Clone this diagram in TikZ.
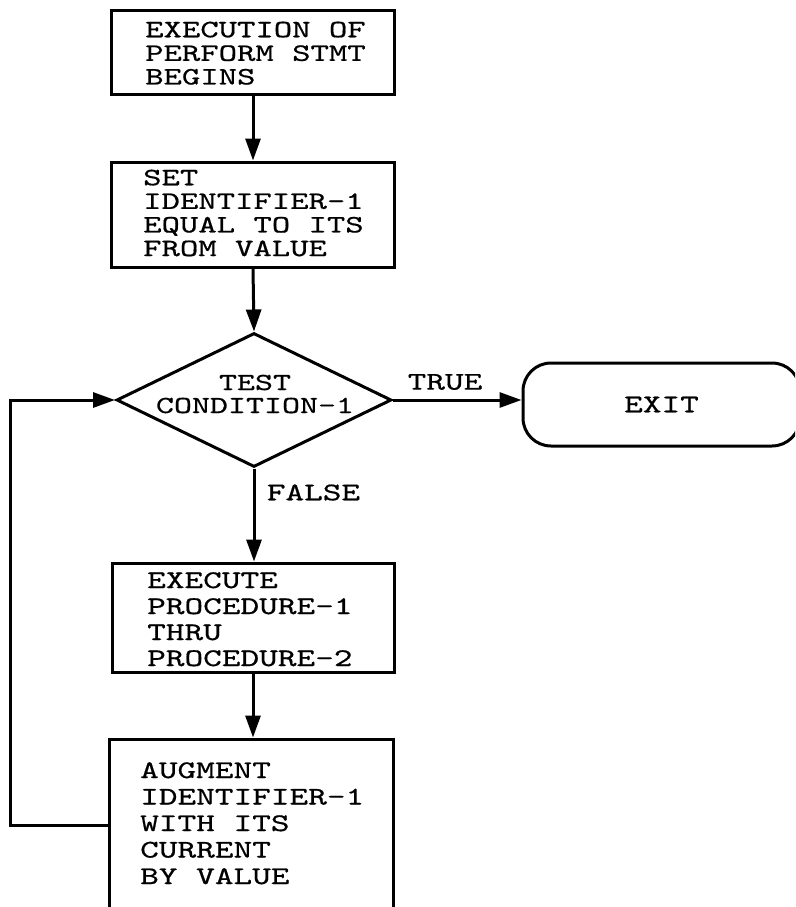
\documentclass[tikz,border=0pt]{standalone}
\usepackage{fontspec}
\newfontfamily\flowfont{lmmono10-regular.otf}[FakeStretch=1.40,FakeBold=0.6]
\newcommand\flowsize[2]{\fontsize{#1}{#2}\selectfont\flowfont}
\usetikzlibrary{shapes.geometric,arrows.meta}
\begin{document}
\begin{tikzpicture}[x=1pt,y=-1pt,
  box/.style={draw, rectangle, line width=3pt, inner sep=0pt},
  dia/.style={draw, diamond, line width=3pt, inner sep=0pt},
  exitbox/.style={draw, rectangle, rounded corners=28pt, line width=3pt, inner sep=0pt, font=\flowsize{25.4}{24}},
  lbl/.style={inner sep=0pt, anchor=north west, align=left},
  plain/.style={inner sep=0pt, font=\flowsize{25.4}{24}},
  arr/.style={line width=3pt, -{Triangle[length=22pt,width=15pt]}}]
\useasboundingbox (0,0) rectangle (795,907);
\clip (0,0) rectangle (795,907);

\node[box, minimum width=283, minimum height=83] (b1) at (253,52.5) {};
\node[lbl, font=\flowsize{25}{23.6}] (t1) at (145,21.5) {EXECUTION OF\\PERFORM STMT\\BEGINS};

\node[box, minimum width=283, minimum height=105] (b2) at (253,214.5) {};
\node[lbl, font=\flowsize{25}{23.6}] (t2) at (143,169.5) {SET\\IDENTIFIER-1\\EQUAL TO ITS\\FROM VALUE};

\node[dia, minimum width=275, minimum height=134] (d) at (254,400) {};
\node[inner sep=0pt, font=\flowsize{24.5}{23}, anchor=base] (dt1) at (255,390) {TEST};
\node[inner sep=0pt, font=\flowsize{24.5}{23}, anchor=base] (dt2) at (255,413) {CONDITION-1};

\node[exitbox, minimum width=277, minimum height=83] (e) at (661.5,404.5) {EXIT};

\node[box, minimum width=282, minimum height=109] (b3) at (253,617.5) {};
\node[lbl, font=\flowsize{25.4}{26}] (t3) at (147,572) {EXECUTE\\PROCEDURE-1\\THRU\\PROCEDURE-2};

\node[box, minimum width=284, minimum height=172] (b4) at (251,825) {};
\node[lbl, font=\flowsize{25.4}{26.5}] (t4) at (140,762) {AUGMENT\\IDENTIFIER-1\\WITH ITS\\CURRENT\\BY VALUE};

\node[plain] (tt) at (445,382) {TRUE};
\node[plain] (ft) at (313.5,492.5) {FALSE};

\draw[arr] (b1.south) -- (b1.south |- b2.north);
\draw[arr] (b2.south) -- (d.north);
\draw[arr] (d.east) -- (d.east -| e.west);
\draw[arr] (d.south) -- (d.south |- b3.north);
\draw[arr] (b3.south) -- (b3.south |- b4.north);
\coordinate (lc) at (10,825);
\draw[arr] (b4.west) -- (lc) |- (d.west);
\end{tikzpicture}
\end{document}
